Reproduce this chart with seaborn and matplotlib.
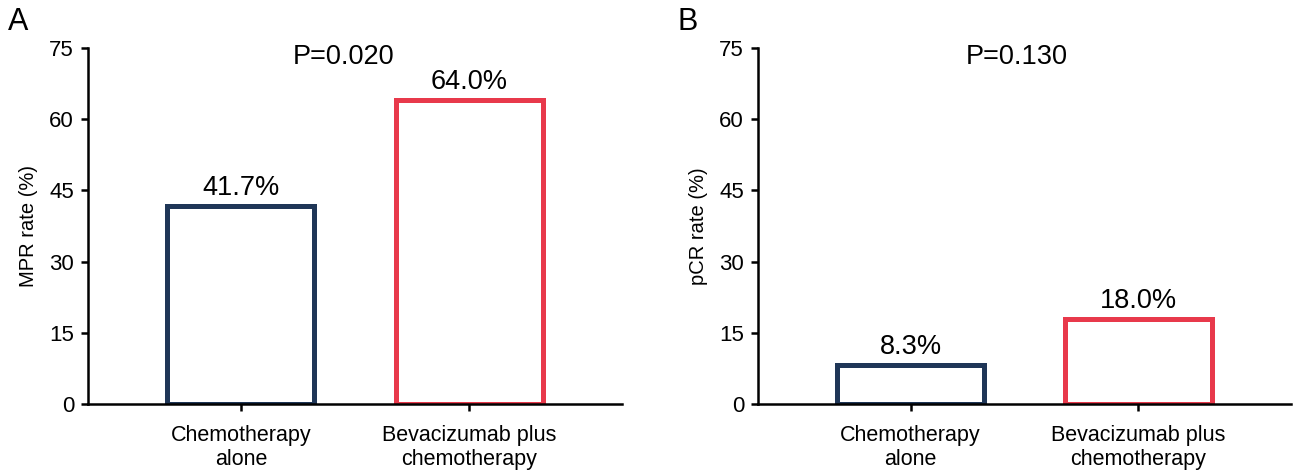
import matplotlib
matplotlib.use("Agg")
import matplotlib.pyplot as plt
import seaborn as sns
import pandas as pd

categories = ["Chemotherapy\nalone", "Bevacizumab plus\nchemotherapy"]
mpr_values = [41.7, 64.0]
pcr_values = [8.3, 18.0]
value_labels_a = ["41.7%", "64.0%"]
value_labels_b = ["8.3%", "18.0%"]
p_values = ["P=0.020", "P=0.130"]
ylabels = ["MPR rate (%)", "pCR rate (%)"]
panel_letters = ["A", "B"]
yticks = [0, 15, 30, 45, 60, 75]
colors = ["#1f3657", "#e8394b"]

sns.set_theme(style="white")
plt.rcParams["font.family"] = ["Liberation Sans", "DejaVu Sans"]
plt.rcParams["text.color"] = "black"
plt.rcParams["axes.labelcolor"] = "black"
plt.rcParams["xtick.color"] = "black"
plt.rcParams["ytick.color"] = "black"

fig = plt.figure(figsize=(12.93, 4.74), dpi=100)
W, H = 1293, 474
axA = fig.add_axes([88 / W, 1 - 404 / H, (622 - 88) / W, (404 - 48) / H])
axB = fig.add_axes([758 / W, 1 - 404 / H, (1291 - 758) / W, (404 - 48) / H])

panels = [
    (axA, mpr_values, value_labels_a, p_values[0], ylabels[0], 0.45),
    (axB, pcr_values, value_labels_b, p_values[1], ylabels[1], 0.465),
]

for ax, vals, vlabels, ptxt, ylab, px in panels:
    df = pd.DataFrame({"group": categories, "rate": vals})
    sns.barplot(data=df, x="group", y="rate", hue="group", palette=colors,
                fill=False, linewidth=3.6, width=0.645, legend=False, ax=ax)
    ax.set_ylim(0, 75)
    ax.set_xlim(-0.67, 1.67)
    ax.set_yticks(yticks)
    ax.set_xlabel("")
    ax.set_ylabel(ylab, fontsize=14.5, labelpad=8)
    for side in ["top", "right"]:
        ax.spines[side].set_visible(False)
    for side in ["left", "bottom"]:
        ax.spines[side].set_linewidth(1.8)
        ax.spines[side].set_color("black")
    ax.tick_params(axis="both", which="both", length=5, width=1.8, color="black",
                   labelcolor="black", direction="out", bottom=True, left=True)
    ax.tick_params(axis="y", labelsize=16, pad=5)
    ax.tick_params(axis="x", labelsize=15.5, pad=10)
    for lab in ax.get_xticklabels():
        lab.set_multialignment("center")
    for i, (v, t) in enumerate(zip(vals, vlabels)):
        ax.annotate(t, xy=(i, v), xytext=(0, 3.5), textcoords="offset points",
                    ha="center", va="bottom", fontsize=19.5)
    ax.text(px, 73, ptxt, ha="center", va="center", fontsize=19.5)
    ax.patch.set_alpha(0)

fig.text(8 / W, 1 - 22 / H, panel_letters[0], fontsize=22, ha="left", va="center")
fig.text(678 / W, 1 - 22 / H, panel_letters[1], fontsize=22, ha="left", va="center")

fig.savefig("out.png", dpi=100, facecolor="white")
